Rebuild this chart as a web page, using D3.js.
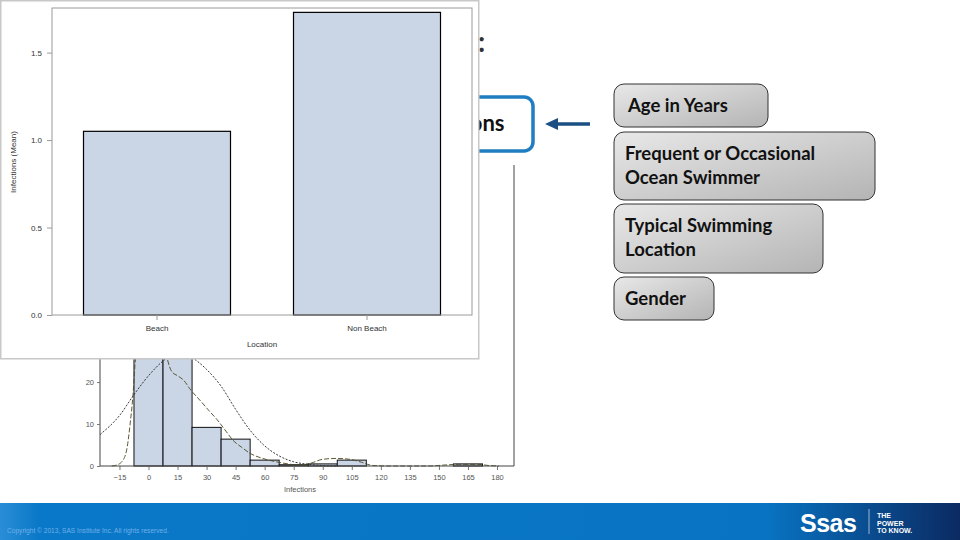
<!DOCTYPE html>
<html><head><meta charset="utf-8">
<script src="https://cdn.jsdelivr.net/npm/d3@7"></script>
<style>html,body{margin:0;padding:0;background:#fff;}svg{display:block;}</style>
</head><body>
<svg id="c" width="960" height="540"></svg>
<script>
// ---- Bar chart (front) ----
const locations = ["Beach", "Non Beach"];
const meanInfections = [1.05, 1.73];
const barYTicks = [0, 0.5, 1.0, 1.5];

// ---- Histogram (behind) ----
const binStarts = [-7.5, 7.5, 22.5, 37.5, 52.5, 67.5, 82.5, 97.5, 112.5, 127.5, 142.5, 157.5];
const binCounts = [55, 48, 9.2, 6.4, 1.4, 0.3, 0.5, 1.4, 0, 0, 0, 0.5];
const histXTicks = [-15, 0, 15, 30, 45, 60, 75, 90, 105, 120, 135, 150, 165, 180];
const histYTicks = [0, 10, 20, 30, 40, 50, 60, 70];
const normalX = [-25, -15, -7.5, 0, 7.5, 15, 22.5, 30, 37.5, 45, 52.5, 60, 67.5, 75, 82.5, 90, 97.5];
const normalY = [7.5, 12, 17, 21.5, 25, 27, 25.8, 23, 19, 13.5, 8.5, 4.8, 2.4, 1, 0.4, 0.1, 0];
const kernelX = [-19, -16, -13, -11, -9.5, -8, -7, -5, 0, 5, 8.5, 10, 12, 15, 18, 22, 26.5, 31, 35.5, 40, 43.5, 48, 52.5, 59, 66, 72, 78, 84, 90, 97, 104, 110, 116, 125, 145, 152, 160, 170, 176, 181];
const kernelY = [0, 0.3, 1.5, 4.5, 10, 17, 24, 32, 40, 36, 28, 25, 22.5, 21.5, 20.5, 18, 15.7, 13.3, 11, 8.3, 6.2, 4.5, 3, 1.8, 1, 0.5, 0.2, 0.7, 1.6, 1.8, 1.6, 0.9, 0.1, 0, 0, 0.2, 0.4, 0.4, 0.1, 0];

// ---- Slide text ----
const predictors = [["Age in Years"], ["Frequent or Occasional", "Ocean Swimmer"], ["Typical Swimming", "Location"], ["Gender"]];

const svg = d3.select("#c");
const defs = svg.append("defs");
const gg = defs.append("linearGradient").attr("id","gbox").attr("x1","0").attr("y1","0").attr("x2","1").attr("y2","1");
gg.append("stop").attr("offset","0").attr("stop-color","#e8e8e8");
gg.append("stop").attr("offset","1").attr("stop-color","#b4b4b4");
const fg = defs.append("linearGradient").attr("id","foot").attr("x1","0").attr("y1","0").attr("x2","1").attr("y2","0");
fg.append("stop").attr("offset","0").attr("stop-color","#2a8ed6");
fg.append("stop").attr("offset","0.04").attr("stop-color","#0a78c8");
fg.append("stop").attr("offset","0.8").attr("stop-color","#0873c2");
fg.append("stop").attr("offset","1").attr("stop-color","#0b2a62");

// Title fragment and blue box
svg.append("text").attr("x",478).attr("y",52).attr("font-family","Lato").attr("font-weight","bold")
  .attr("font-size",28).attr("fill","#333").text(":");
svg.append("rect").attr("x",360).attr("y",97).attr("width",173).attr("height",54).attr("rx",9)
  .attr("fill","#fff").attr("stroke","#1f7dc1").attr("stroke-width",3.5);
svg.append("text").attr("x",504.5).attr("y",131).attr("text-anchor","end").attr("font-family","Lato")
  .attr("font-weight","bold").attr("font-size",22).attr("fill","#111").text("Infections");
// Arrow
svg.append("line").attr("x1",590).attr("y1",124).attr("x2",556).attr("y2",124)
  .attr("stroke","#1b4f82").attr("stroke-width",3.5);
svg.append("path").attr("d","M545,124 L558,118 L558,130 Z").attr("fill","#1b4f82");

// Predictor boxes
const boxes = [
  {x:614,y:84,w:154,h:43},
  {x:614,y:132,w:261,h:68},
  {x:614,y:204,w:209,h:69},
  {x:614,y:277,w:100,h:43}
];
boxes.forEach((b,i)=>{
  svg.append("rect").attr("x",b.x).attr("y",b.y).attr("width",b.w).attr("height",b.h).attr("rx",10)
    .attr("fill","url(#gbox)").attr("stroke","#333").attr("stroke-width",1);
  const lines = predictors[i];
  lines.forEach((t,j)=>{
    svg.append("text").attr("x", i===0?628:625).attr("y", (lines.length===1? b.y+b.h/2+6.5 : b.y+28+j*24))
      .attr("font-family","Lato").attr("font-weight","bold").attr("font-size",18.5).attr("fill","#111").text(t);
  });
});

// Histogram
const hx = d3.scaleLinear().domain([0,180]).range([148.5,497]);
const hy = d3.scaleLinear().domain([0,71.7]).range([466,165]);
const hg = svg.append("g");
hg.selectAll("rect.bin").data(binStarts.map((s,i)=>({s,v:binCounts[i]})).filter(d=>d.v>0)).enter()
  .append("rect").attr("x",d=>hx(d.s)).attr("width",d=>hx(d.s+15)-hx(d.s))
  .attr("y",d=>hy(d.v)).attr("height",d=>hy(0)-hy(d.v))
  .attr("fill","#cad5e5").attr("stroke","#111").attr("stroke-width",1);
const line = d3.line().x(d=>hx(d[0])).y(d=>hy(d[1])).curve(d3.curveMonotoneX);
hg.append("path").attr("d",line(normalX.map((x,i)=>[x,normalY[i]]))).attr("fill","none")
  .attr("stroke","#222").attr("stroke-width",0.9).attr("stroke-dasharray","2,1.5");
hg.append("path").attr("d",line(kernelX.map((x,i)=>[x,kernelY[i]]))).attr("fill","none")
  .attr("stroke","#4a4a22").attr("stroke-width",0.9).attr("stroke-dasharray","5,2");
hg.append("g").attr("transform","translate(0,466)")
  .call(d3.axisBottom(hx).tickValues(histXTicks).tickSize(4).tickSizeOuter(0))
  .call(g=>g.select(".domain").remove())
  .call(g=>g.selectAll("line").attr("stroke","#777"))
  .call(g=>g.selectAll("text").attr("font-family","Liberation Sans").attr("font-size",7.5).attr("fill","#555").attr("dy","0.9em"));
hg.append("line").attr("x1",100).attr("x2",514).attr("y1",466).attr("y2",466).attr("stroke","#444");
hg.append("line").attr("x1",100).attr("x2",100).attr("y1",165).attr("y2",466).attr("stroke","#444");
hg.append("line").attr("x1",514).attr("x2",514).attr("y1",165).attr("y2",466).attr("stroke","#444");
hg.append("g").attr("transform","translate(100,0)")
  .call(d3.axisLeft(hy).tickValues(histYTicks).tickSize(3).tickFormat(d3.format("d")))
  .call(g=>g.select(".domain").remove())
  .call(g=>g.selectAll("line").attr("stroke","#777"))
  .call(g=>g.selectAll("text").attr("font-family","Liberation Sans").attr("font-size",7.5).attr("fill","#555"));
hg.append("text").attr("x",300).attr("y",492).attr("text-anchor","middle").attr("font-family","Liberation Sans")
  .attr("font-size",7.5).attr("fill","#555").text("Infections");

// Footer
svg.append("rect").attr("x",0).attr("y",503).attr("width",960).attr("height",37).attr("fill","url(#foot)");
svg.append("text").attr("x",7).attr("y",533).attr("font-family","Liberation Sans").attr("font-size",6.6)
  .attr("fill","#6fb0ea").text("Copyright © 2013, SAS Institute Inc. All rights reserved.");
svg.append("text").attr("x",800).attr("y",532).attr("font-family","Liberation Sans").attr("font-weight","bold")
  .attr("font-size",25).attr("fill","#fff").attr("letter-spacing","-0.5").text("Ssas");
svg.append("line").attr("x1",869).attr("x2",869).attr("y1",509).attr("y2",534).attr("stroke","#fff").attr("stroke-width",0.6);
["THE","POWER","TO KNOW."].forEach((t,i)=>{
  svg.append("text").attr("x",877).attr("y",518+i*7.5).attr("font-family","Liberation Sans").attr("font-weight","bold")
    .attr("font-size",7).attr("fill","#fff").text(t);
});

// Bar chart overlay
const fr = svg.append("g");
fr.append("rect").attr("x",0.75).attr("y",0.75).attr("width",478).attr("height",358)
  .attr("fill","#fff").attr("stroke","#c8c8c8").attr("stroke-width",1.5);
const bx = d3.scaleBand().domain(locations).range([52,472]).paddingInner(0.3).paddingOuter(0.15);
const by = d3.scaleLinear().domain([0,1.755]).range([315,8]);
fr.selectAll("rect.bar").data(locations.map((l,i)=>({l,v:meanInfections[i]}))).enter()
  .append("rect").attr("x",d=>bx(d.l)).attr("width",bx.bandwidth())
  .attr("y",d=>by(d.v)).attr("height",d=>by(0)-by(d.v))
  .attr("fill","#cad5e5").attr("stroke","#000").attr("stroke-width",1.2);
fr.append("rect").attr("x",52).attr("y",8).attr("width",420).attr("height",307)
  .attr("fill","none").attr("stroke","#9a9a9a").attr("stroke-width",1);
fr.append("g").attr("transform","translate(52,0)")
  .call(d3.axisLeft(by).tickValues(barYTicks).tickSize(5).tickFormat(d3.format(".1f")))
  .call(g=>g.select(".domain").remove())
  .call(g=>g.selectAll("line").attr("stroke","#9a9a9a"))
  .call(g=>g.selectAll("text").attr("font-family","Liberation Sans").attr("font-size",8).attr("fill","#333").attr("dx","-2"));
fr.append("g").attr("transform","translate(0,315)")
  .call(d3.axisBottom(bx).tickSize(5))
  .call(g=>g.select(".domain").remove())
  .call(g=>g.selectAll("line").attr("stroke","#9a9a9a"))
  .call(g=>g.selectAll("text").attr("font-family","Liberation Sans").attr("font-size",8).attr("fill","#333").attr("dy","0.95em"));
fr.append("text").attr("x",262).attr("y",347).attr("text-anchor","middle").attr("font-family","Liberation Sans")
  .attr("font-size",8).attr("fill","#333").text("Location");
fr.append("text").attr("transform","translate(16,162) rotate(-90)").attr("text-anchor","middle")
  .attr("font-family","Liberation Sans").attr("font-size",8).attr("fill","#333").text("Infections (Mean)");
</script>
</body></html>
